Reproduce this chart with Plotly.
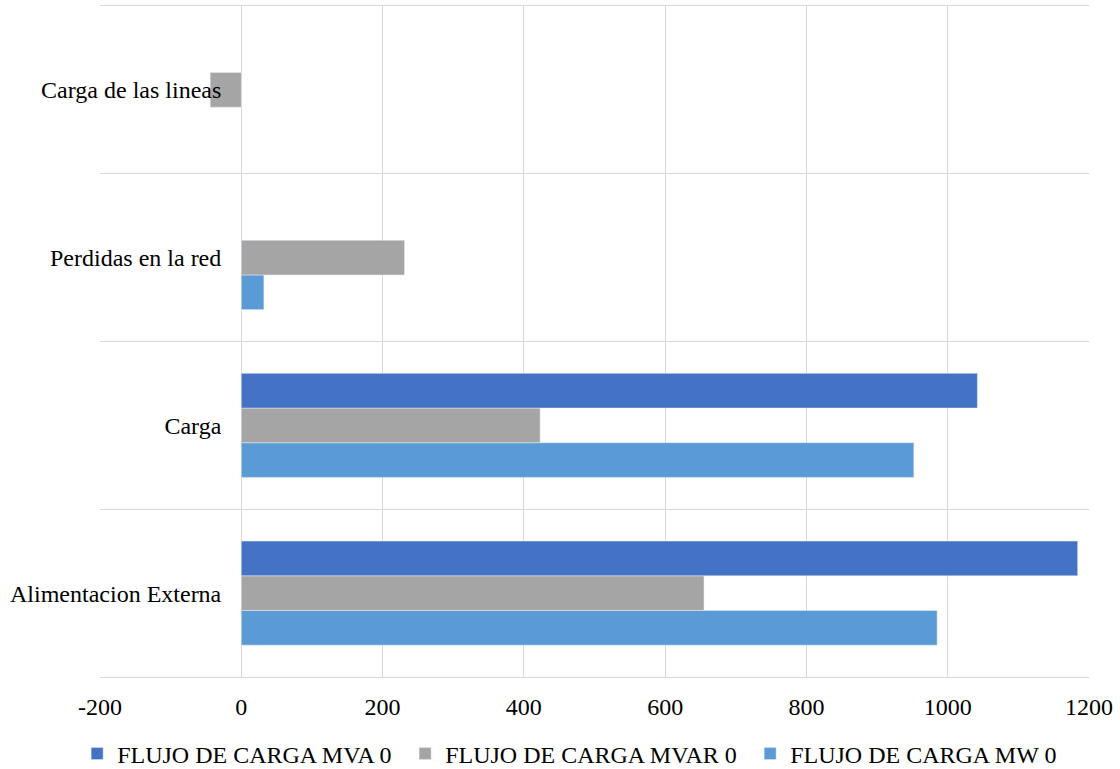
import plotly.graph_objects as go

# Categories (bottom to top) and series values
categories = ["Alimentacion Externa", "Carga", "Perdidas en la red", "Carga de las lineas"]
flujo_mw = [985, 952, 32, None]
flujo_mvar = [655, 423, 231, -44]
flujo_mva = [1184, 1042, None, None]

x_range = [-200, 1200]
x_ticks = [-200, 0, 200, 400, 600, 800, 1000, 1200]
x_tick_labels = ["-200", "0", "200", "400", "600", "800", "1000", "1200"]

FONT = "Liberation Serif, Times New Roman, serif"
GRID = "#D9D9D9"

fig = go.Figure()
fig.add_trace(go.Bar(y=categories, x=flujo_mw, orientation="h",
                     name="FLUJO DE CARGA MW 0", marker_color="#5B9BD5"))
fig.add_trace(go.Bar(y=categories, x=flujo_mvar, orientation="h",
                     name="FLUJO DE CARGA MVAR 0", marker_color="#A5A5A5",
                     legendwidth=300))
fig.add_trace(go.Bar(y=categories, x=flujo_mva, orientation="h",
                     name="FLUJO DE CARGA MVA 0", marker_color="#4472C4",
                     legendwidth=283))

# vertical category axis crosses the value axis at 0
y_axis_pos = (0 - x_range[0]) / (x_range[1] - x_range[0])

fig.update_layout(
    width=1120, height=769,
    margin=dict(l=100, r=31, t=6, b=92, autoexpand=False),
    paper_bgcolor="white", plot_bgcolor="white",
    barmode="group", bargap=0.38, bargroupgap=0,
    font=dict(family=FONT, size=24, color="black"),
    showlegend=True,
    legend=dict(orientation="h", traceorder="reversed",
                x=0.5086, xanchor="center", xref="container",
                y=1 - 754 / 769, yanchor="middle", yref="container",
                font=dict(family=FONT, size=24, color="black"),
                itemwidth=30, itemclick=False),
    xaxis=dict(range=x_range, tickvals=x_ticks, ticktext=x_tick_labels,
               showgrid=True, gridcolor=GRID,
               gridwidth=1, zeroline=True, zerolinecolor=GRID, zerolinewidth=1,
               showline=True, linecolor=GRID, linewidth=1, mirror=True,
               ticks="", ticklabelstandoff=8, fixedrange=True),
    yaxis=dict(type="category", categoryorder="array", categoryarray=categories,
               tickson="boundaries", showgrid=True, gridcolor=GRID, gridwidth=1,
               anchor="free", position=y_axis_pos, showline=False, ticks="",
               ticklabelstandoff=20, automargin=False, fixedrange=True),
)

fig.write_html("out.html")
